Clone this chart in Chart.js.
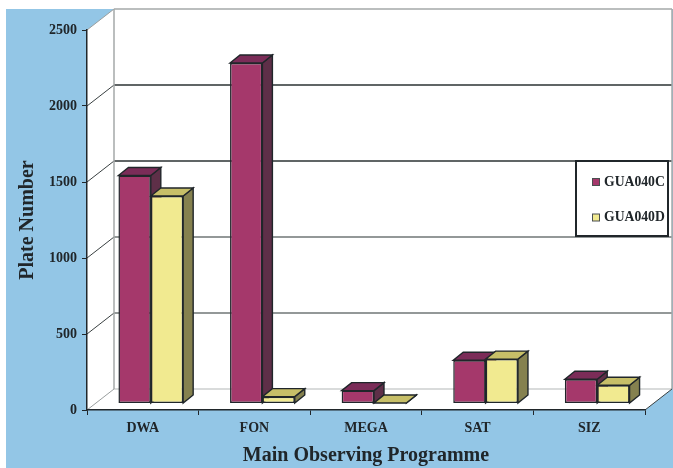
<!DOCTYPE html>
<html>
<head>
<meta charset="utf-8">
<style>html,body{margin:0;padding:0;background:#fff}canvas{display:block}</style>
<script src="https://cdn.jsdelivr.net/npm/chart.js@4"></script>
</head>
<body>
<div style="width:673px;height:468px"><canvas id="c" width="673" height="468"></canvas></div>
<script>
const categories = ['DWA', 'FON', 'MEGA', 'SAT', 'SIZ'];
const gua040c = [1500, 2240, 85, 285, 160];
const gua040d = [1365, 45, 3, 292, 120];
const seriesNames = ['GUA040C', 'GUA040D'];
const yTicks = [0, 500, 1000, 1500, 2000, 2500];

const serif = '"Liberation Serif", serif';
const INK = '#20262a';
const WALL = { dx: 27, dy: -21 };   // back wall offset from the axis plane
const FRONT = { dx: 8, dy: -6.5 };  // bar front face offset from the axis plane
const DEPTH = { dx: 10, dy: -8 };   // bar depth
const gridColours = { 0: '#b4b8b8', 500: '#6f7676', 1000: '#6f7676', 1500: '#2b3233', 2000: '#2b3233', 2500: '#a4a9a9' };
const faces = [
  { front: '#a5386b', side: '#5e2f48', top: '#7b2c58' },
  { front: '#f1ea90', side: '#85814f', top: '#c7bf68' }
];

function poly(ctx, pts, fill, stroke, lw) {
  ctx.beginPath();
  pts.forEach((p, i) => i ? ctx.lineTo(p[0], p[1]) : ctx.moveTo(p[0], p[1]));
  ctx.closePath();
  if (fill) { ctx.fillStyle = fill; ctx.fill(); }
  if (stroke) { ctx.strokeStyle = stroke; ctx.lineWidth = lw; ctx.stroke(); }
}
function line(ctx, x1, y1, x2, y2, colour, lw) {
  ctx.beginPath(); ctx.moveTo(x1, y1); ctx.lineTo(x2, y2);
  ctx.strokeStyle = colour; ctx.lineWidth = lw; ctx.stroke();
}

// Room behind the bars: backdrop, side wall, floor, back wall and its grid
const room = {
  id: 'room',
  beforeDraw(chart) {
    const { ctx, chartArea: a, scales: { y } } = chart;
    ctx.save();
    ctx.fillStyle = '#ffffff';
    ctx.fillRect(0, 0, chart.width, chart.height);
    ctx.fillStyle = '#93c6e6';
    ctx.fillRect(6, 9, chart.width - 6, chart.height - 9);
    const l = a.left, r = a.right, t = y.getPixelForValue(2500), b = y.getPixelForValue(0);
    poly(ctx, [[l, t], [l + WALL.dx, t + WALL.dy], [r + WALL.dx, t + WALL.dy], [r + WALL.dx, b + WALL.dy], [r, b], [l, b]], '#ffffff');
    yTicks.forEach(v => {
      const py = y.getPixelForValue(v);
      line(ctx, l + WALL.dx, py + WALL.dy, r + WALL.dx, py + WALL.dy, gridColours[v], v === 0 ? 1.2 : 1.6);
      line(ctx, l, py, l + WALL.dx, py + WALL.dy, v === 2500 || v === 0 ? '#9a9f9f' : '#3a4142', 1);
    });
    line(ctx, l + WALL.dx, t + WALL.dy, l + WALL.dx, b + WALL.dy, '#a4a9a9', 1.5);
    line(ctx, r + WALL.dx, t + WALL.dy, r + WALL.dx, b + WALL.dy, '#a4a9a9', 1.5);
    line(ctx, r, b, r + WALL.dx, b + WALL.dy, '#3a4142', 1);
    ctx.restore();
  }
};

// Lifts bars off the axis plane and paints their side and top faces first,
// first series underneath, so the library's front faces land on top of them
const bars3d = {
  id: 'bars3d',
  beforeDatasetsDraw(chart) {
    const ctx = chart.ctx;
    ctx.save();
    ctx.translate(FRONT.dx, FRONT.dy);
    chart.data.datasets.forEach((ds, i) => {
      const f = faces[i];
      chart.getDatasetMeta(i).data.forEach(bar => {
        const p = bar.getProps(['x', 'y', 'base', 'width'], true);
        const x0 = p.x - p.width / 2, x1 = p.x + p.width / 2;
        poly(ctx, [[x1, p.y], [x1 + DEPTH.dx, p.y + DEPTH.dy], [x1 + DEPTH.dx, p.base + DEPTH.dy], [x1, p.base]], f.side, INK, 1.4);
        poly(ctx, [[x0, p.y], [x0 + DEPTH.dx, p.y + DEPTH.dy], [x1 + DEPTH.dx, p.y + DEPTH.dy], [x1, p.y]], f.top, INK, 1.4);
      });
    });
  },
  afterDatasetsDraw(chart) { chart.ctx.restore(); }
};

// Boxed key over the right of the back wall
const keyBox = {
  id: 'keyBox',
  afterDraw(chart) {
    const ctx = chart.ctx;
    ctx.save();
    ctx.fillStyle = '#ffffff';
    ctx.fillRect(576, 161, 92, 75);
    ctx.strokeStyle = '#20262a';
    ctx.lineWidth = 2;
    ctx.strokeRect(576, 161, 92, 75);
    chart.data.datasets.forEach((ds, i) => {
      const cy = 182 + i * 35.5;
      ctx.fillStyle = faces[i].front;
      ctx.fillRect(592.5, cy - 3.5, 7, 7);
      ctx.strokeStyle = '#4a4f50';
      ctx.lineWidth = 1;
      ctx.strokeRect(592.5, cy - 3.5, 7, 7);
      ctx.fillStyle = '#20262a';
      ctx.font = 'bold 13.7px ' + serif;
      ctx.textBaseline = 'middle';
      ctx.textAlign = 'left';
      ctx.fillText(ds.label, 604, cy);
    });
    ctx.restore();
  }
};

new Chart(document.getElementById('c'), {
  type: 'bar',
  data: {
    labels: categories,
    datasets: [
      { label: seriesNames[0], data: gua040c, backgroundColor: faces[0].front },
      { label: seriesNames[1], data: gua040d, backgroundColor: faces[1].front }
    ]
  },
  plugins: [room, bars3d, keyBox],
  options: {
    responsive: false,
    animation: false,
    layout: { padding: { top: 30, right: 28, left: 0, bottom: 0 } },
    categoryPercentage: 0.58,
    barPercentage: 1,
    elements: { bar: { borderColor: INK, borderWidth: 1.5, borderSkipped: false } },
    plugins: { legend: { display: false }, title: { display: false }, tooltip: { enabled: false } },
    scales: {
      x: {
        afterFit(s) { s.height = 58; },
        grid: { drawOnChartArea: false, drawTicks: true, tickLength: 5, color: INK, offset: true },
        border: { color: INK, width: 1.5 },
        ticks: { color: INK, font: { family: serif, size: 14, weight: 'bold' }, padding: 5, maxRotation: 0 },
        title: { display: true, text: 'Main Observing Programme', color: INK, font: { family: serif, size: 20, weight: 'bold' }, padding: { top: 8, bottom: 0 } }
      },
      y: {
        min: 0,
        max: 2500,
        afterFit(s) { s.width = 87; },
        afterBuildTicks(s) { s.ticks = yTicks.map(v => ({ value: v })); },
        grid: { drawOnChartArea: false, drawTicks: true, tickLength: 5, color: INK },
        border: { color: INK, width: 1.5 },
        ticks: { color: INK, font: { family: serif, size: 14, weight: 'bold' }, padding: 5, callback: v => String(v) },
        title: { display: true, text: 'Plate Number', color: INK, font: { family: serif, size: 20, weight: 'bold' }, padding: { top: 16, bottom: 0 } }
      }
    }
  }
});
</script>
</body>
</html>
